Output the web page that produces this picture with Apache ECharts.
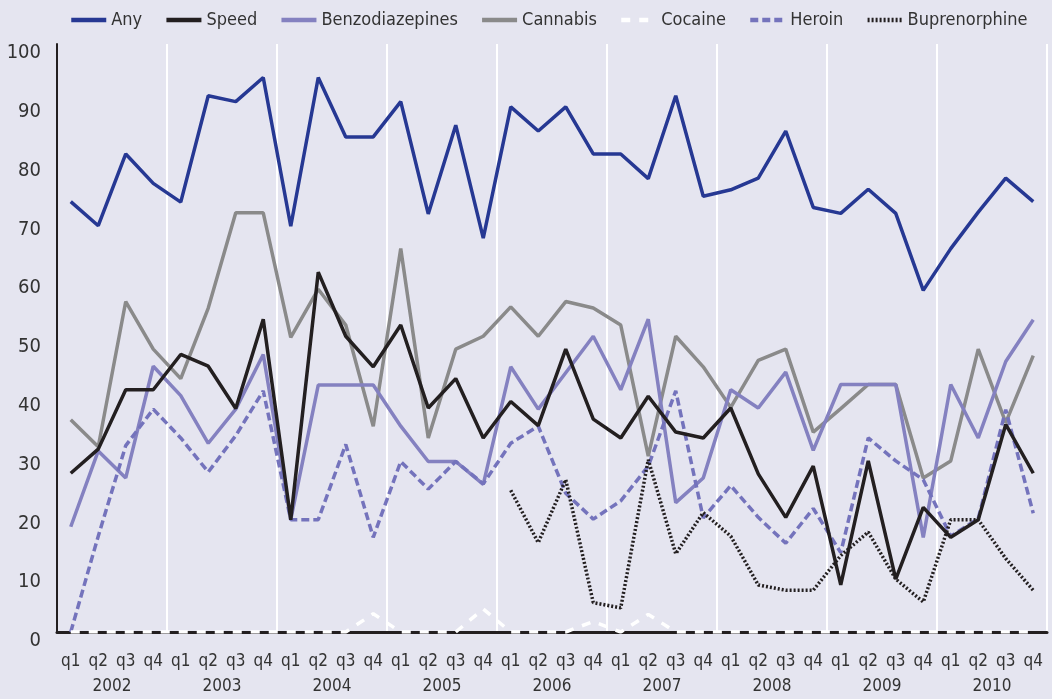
<!DOCTYPE html>
<html>
<head>
<meta charset="utf-8">
<script src="https://cdn.jsdelivr.net/npm/echarts@6/dist/echarts.min.js"></script>
<style>
html,body{margin:0;padding:0;background:#E5E5F0;}
#chart{width:1052px;height:699px;}
</style>
</head>
<body>
<div id="chart"></div>
<script>
const quarters = [];
const years = ['2002','2003','2004','2005','2006','2007','2008','2009','2010'];
years.forEach(function(y){ ['q1','q2','q3','q4'].forEach(function(q){ quarters.push(q + ' ' + y); }); });

const anyDrug = [73.2,69.1,81.3,76.3, 73.1,91.2,90.2,94.3, 69.0,94.3,84.2,84.2, 90.2,71.1,86.2,67.0, 89.3,85.2,89.3,81.3, 81.3,77.1,91.2,74.1, 75.2,77.2,85.2,72.2, 71.2,75.3,71.2,58.1, 65.2,71.4,77.2,73.2];
const speed = [27.0,31.1,41.2,41.2, 47.2,45.2,38.0,53.2, 19.1,61.2,50.3,45.1, 52.2,38.1,43.1,33.0, 39.2,35.1,48.1,36.2, 33.0,40.1,34.0,33.0, 38.1,26.9,19.5,28.2, 8.0,29.1,9.0,21.2, 16.1,19.1,35.3,27.0];
const benzo = [17.9,30.8,26.2,45.2, 40.2,32.1,37.9,47.2, 19.1,42.0,42.0,42.0, 35.0,29.0,29.0,25.1, 45.1,37.9,44.1,50.3, 41.2,53.2,22.0,26.2, 41.2,38.1,44.2,30.9, 42.1,42.1,42.1,16.1, 42.1,33.0,46.0,53.1];
const cannabis = [36.1,31.5,56.2,48.1, 43.1,55.1,71.3,71.3, 50.1,58.3,52.2,35.0, 65.2,33.0,48.1,50.3, 55.3,50.3,56.2,55.1, 52.2,29.9,50.3,45.1, 38.2,46.2,48.1,34.0, 38.0,42.1,42.1,26.2, 29.1,48.1,35.6,47.0];
const cocaine = [0,0,0,0, 0,0,0,0, 0,0,0,3.1, 0,0,0,3.9, 0,0,0,1.8, 0,3.0,0,0, 0,0,0,0, 0,0,0,0, 0,0,0,0];
const heroin = [0,16.3,31.7,37.9, 33.0,27.2,33.4,41.0, 19.1,19.1,31.9,16.1, 29.0,24.3,29.0,25.2, 32.1,35.0,23.6,19.2, 22.3,28.2,41.0,19.4, 24.9,19.5,15.1,21.0, 13.5,33.0,29.1,25.9, 16.3,19.3,37.8,20.2];
const bup = [null,null,null,null, null,null,null,null, null,null,null,null, null,null,null,null, 24.1,15.2,25.9,5.0, 4.1,29.3,13.3,20.3, 16.3,8.0,7.1,7.1, 13.0,17.0,9.0,5.1, 19.1,19.1,12.5,7.1];
const yTicks = [0,10,20,30,40,50,60,70,80,90,100];

const FONT = "'DejaVu Sans Condensed','Liberation Sans Narrow',sans-serif";

function mk(name, data, color, type, z){
  return {
    name: name, type: 'line', data: data, symbol: 'none', showSymbol: false, z: z,
    xAxisIndex: 0, yAxisIndex: 0,
    lineStyle: {color: color, width: 3.5, type: type, cap: 'butt'},
    itemStyle: {color: color},
    emphasis: {disabled: true},
    animation: false
  };
}

const chart = echarts.init(document.getElementById('chart'), null, {renderer: 'canvas'});
chart.setOption({
  backgroundColor: '#E5E5F0',
  animation: false,
  legend: {
    top: 6, left: 64,
    itemWidth: 35, itemHeight: 12, itemGap: 22,
    itemStyle: {opacity: 0, borderWidth: 0},
    lineStyle: {width: 4.5},
    textStyle: {fontFamily: FONT, fontSize: 18, color: '#333'},
    data: ['Any','Speed','Benzodiazepines','Cannabis','Cocaine','Heroin','Buprenorphine']
  },
  grid: {left: 57, right: 5, top: 44, bottom: 67, containLabel: false},
  xAxis: [{
    type: 'category', data: quarters, boundaryGap: true,
    axisLine: {show: true, onZero: true, lineStyle: {color: '#231F20', width: 3}},
    axisTick: {show: false},
    axisLabel: {show: true, interval: 0, margin: 21, fontFamily: FONT, fontSize: 17, color: '#333',
      formatter: function(v){ return v.split(' ')[0]; }},
    splitLine: {show: false}
  }, {
    type: 'category', data: years, boundaryGap: true, position: 'bottom',
    axisLine: {show: false}, axisTick: {show: false},
    axisLabel: {show: true, interval: 0, margin: 46, fontFamily: FONT, fontSize: 17, color: '#333'},
    splitLine: {show: true, interval: 0, lineStyle: {color: '#FFFFFF', width: 2}}
  }],
  yAxis: {
    type: 'value', min: 0, max: 100, interval: 10,
    axisLine: {show: true, lineStyle: {color: '#231F20', width: 2}},
    axisTick: {show: false},
    splitLine: {show: false},
    axisLabel: {margin: 16, fontFamily: FONT, fontSize: 20, color: '#333',
      verticalAlign: 'top', lineHeight: 18,
      formatter: function(v){ return yTicks.indexOf(v) >= 0 ? String(v) : ''; }}
  },
  series: [
    mk('Any', anyDrug, '#263893', 'solid', 3),
    mk('Speed', speed, '#231F20', 'solid', 4),
    mk('Benzodiazepines', benzo, '#8481C0', 'solid', 3),
    mk('Cannabis', cannabis, '#8A8A8A', 'solid', 2),
    mk('Cocaine', cocaine, '#FFFFFF', [9,9], 5),
    mk('Heroin', heroin, '#7473BC', [8,4], 3),
    mk('Buprenorphine', bup, '#231F20', [2,2], 3)
  ]
});
</script>
</body>
</html>
